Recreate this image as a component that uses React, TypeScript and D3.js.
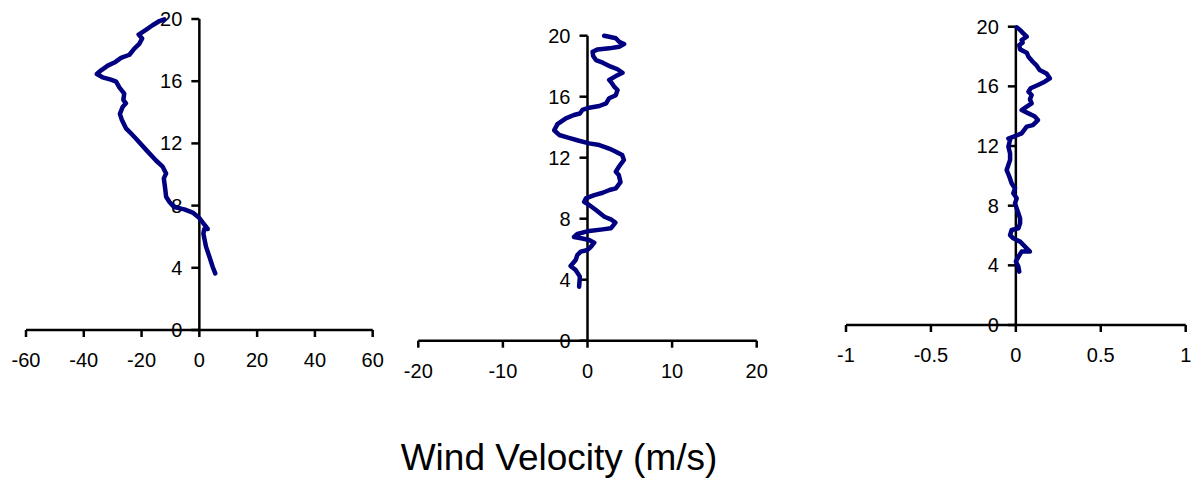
import React from "react";
import * as d3 from "d3";

// Vertical wind profiles: [velocity (m/s), height] pairs, bottom to top
const profileU: [number, number][] = [
  [5.5, 3.64], [4.6, 4.07], [3.5, 4.7], [2.3, 5.36], [1.4, 6.2], [1.7, 6.5], [2.9, 6.5],
  [1.4, 6.86], [0, 7.2], [-2.3, 7.55], [-5.2, 7.76], [-8.7, 7.9], [-10.4, 8.25],
  [-11.5, 8.57], [-11.9, 9.2], [-12.3, 9.75], [-11.5, 10.07], [-12.7, 10.5], [-15, 10.9],
  [-18.5, 11.6], [-21.9, 12.3], [-23.7, 12.65], [-25.4, 12.97], [-26.8, 13.5],
  [-27.5, 13.9], [-26.5, 14.36], [-25.4, 14.58], [-26.3, 14.8], [-26, 15.2], [-27.7, 15.6],
  [-28.8, 15.97], [-30.6, 16.1], [-33.5, 16.25], [-35.5, 16.46], [-34, 16.7], [-31.7, 17.0],
  [-29.4, 17.2], [-27.1, 17.5], [-24.2, 17.7], [-22.5, 18.1], [-20.8, 18.4], [-19.8, 18.75],
  [-21, 19.0], [-18.5, 19.3], [-16.2, 19.6], [-13.8, 19.87], [-12.1, 19.98],
];

const profileV: [number, number][] = [
  [-0.99, 3.54], [-0.9, 4.2], [-1.4, 4.63], [-2.0, 4.9], [-1.4, 5.29], [-1.2, 5.62],
  [-0.8, 5.84], [0, 5.95], [0.4, 6.16], [0.8, 6.43], [0.2, 6.6], [-0.6, 6.7], [-1.6, 6.8],
  [-1.2, 7.0], [0.2, 7.2], [1.8, 7.3], [2.76, 7.37], [3.3, 7.74], [2.76, 7.96], [2.0, 8.13],
  [1.0, 8.57], [0.2, 8.9], [-0.4, 9.1], [-0.2, 9.33], [0.8, 9.55], [1.8, 9.7], [2.6, 9.88],
  [3.35, 9.99], [3.9, 10.4], [3.7, 10.86], [3.35, 11.08], [3.7, 11.4], [4.3, 11.85],
  [4.1, 12.17], [3.35, 12.39], [2.56, 12.6], [1.4, 12.83], [0.2, 12.94], [-1.0, 13.11],
  [-2.2, 13.3], [-3.35, 13.49], [-3.94, 13.8], [-3.55, 14.2], [-2.56, 14.58], [-1.6, 14.8],
  [-0.9, 14.9], [-0.6, 15.13], [0.2, 15.28], [1.4, 15.39], [2.2, 15.56], [2.56, 15.9],
  [3.35, 16.1], [3.55, 16.44], [3.15, 16.66], [2.9, 16.87], [2.56, 17.1], [3.35, 17.35],
  [4.14, 17.57], [3.55, 17.8], [2.76, 17.97], [1.8, 18.23], [1.0, 18.4], [0.67, 18.67],
  [0.6, 18.95], [1.2, 19.1], [2.56, 19.17], [3.74, 19.28], [4.33, 19.45], [3.74, 19.6],
  [3.35, 19.83], [2.56, 19.93], [1.97, 20],
];

const profileW: [number, number][] = [
  [0.02, 3.58], [0.015, 3.9], [0, 4.25], [0.015, 4.58], [0.034, 4.92], [0.083, 4.92],
  [0.054, 5.25], [0.025, 5.59], [-0.015, 5.81], [-0.034, 6.03], [-0.025, 6.37],
  [0.015, 6.48], [0.025, 6.82], [0.025, 7.15], [0.015, 7.49], [0.005, 7.82], [-0.005, 8.16],
  [0.005, 8.49], [-0.015, 8.83], [-0.005, 9.16], [-0.025, 9.5], [-0.038, 9.94],
  [-0.054, 10.39], [-0.044, 10.73], [-0.034, 11.06], [-0.034, 11.5], [-0.044, 11.96],
  [-0.034, 12.4], [-0.044, 12.5], [-0.005, 12.67], [0.034, 12.85], [0.064, 13.3],
  [0.1, 13.4], [0.13, 13.74], [0.11, 14.0], [0.074, 14.19], [0.034, 14.41], [0.064, 14.64],
  [0.093, 14.86], [0.083, 15.13], [0.093, 15.42], [0.074, 15.64], [0.087, 15.87],
  [0.13, 16.09], [0.17, 16.31], [0.2, 16.54], [0.18, 16.87], [0.14, 17.1], [0.12, 17.43],
  [0.1, 17.65], [0.074, 17.99], [0.064, 18.26], [0.025, 18.48], [0.02, 18.77],
  [0.04, 18.93], [0.034, 19.1], [0.064, 19.33], [0.044, 19.55], [0.025, 19.78],
  [0.005, 19.96],
];

const heightTicks = [0, 4, 8, 12, 16, 20];
const ticksU = [-60, -40, -20, 0, 20, 40, 60];
const ticksV = [-20, -10, 0, 10, 20];
const ticksW = [-1, -0.5, 0, 0.5, 1];

const axisTitle = "Wind Velocity (m/s)";

const FONT = "Arial, 'Liberation Sans', sans-serif";
const LINE_COLOR = "#000080";

type PanelProps = {
  data: [number, number][];
  xTicks: number[];
  xDomain: [number, number];
  xRange: [number, number];
  yRange: [number, number];
};

function Panel({ data, xTicks, xDomain, xRange, yRange }: PanelProps) {
  const x = d3.scaleLinear().domain(xDomain).range(xRange);
  const y = d3.scaleLinear().domain([0, 20]).range(yRange);
  const line = d3
    .line<[number, number]>()
    .x((d) => x(d[0]))
    .y((d) => y(d[1]));
  const x0 = x(0);
  const y0 = y(0);
  return (
    <g>
      {/* horizontal velocity axis */}
      <line x1={x(xDomain[0])} x2={x(xDomain[1])} y1={y0} y2={y0} stroke="#000" strokeWidth={2.5} />
      {xTicks.map((t) => (
        <g key={"xt" + t}>
          <line x1={x(t)} x2={x(t)} y1={y0} y2={y0 + 7} stroke="#000" strokeWidth={2.5} />
          <text x={x(t)} y={y0 + 37} textAnchor="middle" fontFamily={FONT} fontSize={20} fill="#000">
            {t}
          </text>
        </g>
      ))}
      {/* vertical height axis through zero */}
      <line x1={x0} x2={x0} y1={y(0)} y2={y(20)} stroke="#000" strokeWidth={2.5} />
      {heightTicks.map((t) => (
        <g key={"yt" + t}>
          <line x1={x0 - 8} x2={x0} y1={y(t)} y2={y(t)} stroke="#000" strokeWidth={2.5} />
          <text
            x={x0 - 17}
            y={y(t) + 7}
            textAnchor="end"
            fontFamily={FONT}
            fontSize={20}
            fill="#000"
          >
            {t}
          </text>
        </g>
      ))}
      <path
        d={line(data) ?? ""}
        fill="none"
        stroke={LINE_COLOR}
        strokeWidth={4.5}
        strokeLinejoin="round"
        strokeLinecap="round"
      />
    </g>
  );
}

export default function App() {
  return (
    <svg
      width={1204}
      height={481}
      style={{ position: "absolute", left: 0, top: 0, background: "#fff" }}
    >
      <rect width={1204} height={481} fill="#fff" />
      <Panel data={profileU} xTicks={ticksU} xDomain={[-60, 60]} xRange={[26, 372.7]} yRange={[330, 19]} />
      <Panel data={profileV} xTicks={ticksV} xDomain={[-20, 20]} xRange={[418.3, 756.7]} yRange={[340.7, 35.7]} />
      <Panel data={profileW} xTicks={ticksW} xDomain={[-1, 1]} xRange={[846, 1185.7]} yRange={[325, 26.7]} />
      <text x={559} y={470} textAnchor="middle" fontFamily={FONT} fontSize={37} fill="#000">
        {axisTitle}
      </text>
    </svg>
  );
}
